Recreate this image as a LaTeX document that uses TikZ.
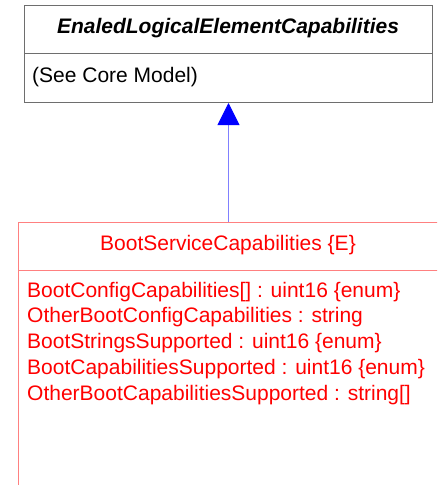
\documentclass[tikz,border=0pt]{standalone}
\usepackage{fontspec}
\setmainfont{Liberation Sans}
\usetikzlibrary{arrows.meta}
\definecolor{umlred}{RGB}{255,0,0}
\definecolor{edgered}{RGB}{255,128,128}
\definecolor{edgeblue}{RGB}{128,128,255}
\definecolor{edgegray}{RGB}{110,110,110}

\begin{document}
\begin{tikzpicture}[x=1pt, y=-1pt,
      every node/.style = {inner sep=0pt, font=\fontsize{21}{25.75}\selectfont},
      classbox/.style = {draw, rectangle, anchor=north west, line width=1pt},
      classtitle/.style = {anchor=base, font=\fontsize{21}{25.75}\selectfont\bfseries\itshape},
      attrtext/.style = {anchor=base west, text=umlred}]
  \useasboundingbox (0,0) rectangle (437,485);
  \clip (0,0) rectangle (437,485);
  % parent class
  \node[classbox, draw=edgegray, minimum width=408pt, minimum height=97pt] (elec) at (24,5) {};
  \node[classtitle] (electitle) at (228,33) {EnaledLogicalElementCapabilities};
  \node[anchor=base west] (elecnote) at (32,82) {(See Core Model)};
  \coordinate (elecsep) at (0,53);
  \draw[edgegray, line width=1pt] (elec.west |- elecsep) -- (elec.east |- elecsep);
  % boot service class
  \node[classbox, draw=edgered, minimum width=440pt, minimum height=300pt] (boot) at (18,222) {};
  \node[anchor=base, text=umlred] (boottitle) at (228,250) {BootServiceCapabilities \{E\}};
  \coordinate (bootsep) at (0,270);
  \draw[edgered, line width=1pt] (boot.west |- bootsep) -- (boot.east |- bootsep);
  \foreach \attr [count=\i from 0] in {BootConfigCapabilities[] : uint16 \{enum\},
      OtherBootConfigCapabilities : string,
      BootStringsSupported : uint16 \{enum\},
      BootCapabilitiesSupported : uint16 \{enum\},
      OtherBootCapabilitiesSupported : string[]}
    \node[attrtext] (attr\i) at (27,{297+25.75*\i}) {\attr};
  % inheritance
  \draw[edgeblue, line width=1pt, -{Triangle[width=22pt, length=22pt, color=blue, fill=blue]}]
    (elec.south |- boot.north) -- (elec.south);
\end{tikzpicture}
\end{document}
